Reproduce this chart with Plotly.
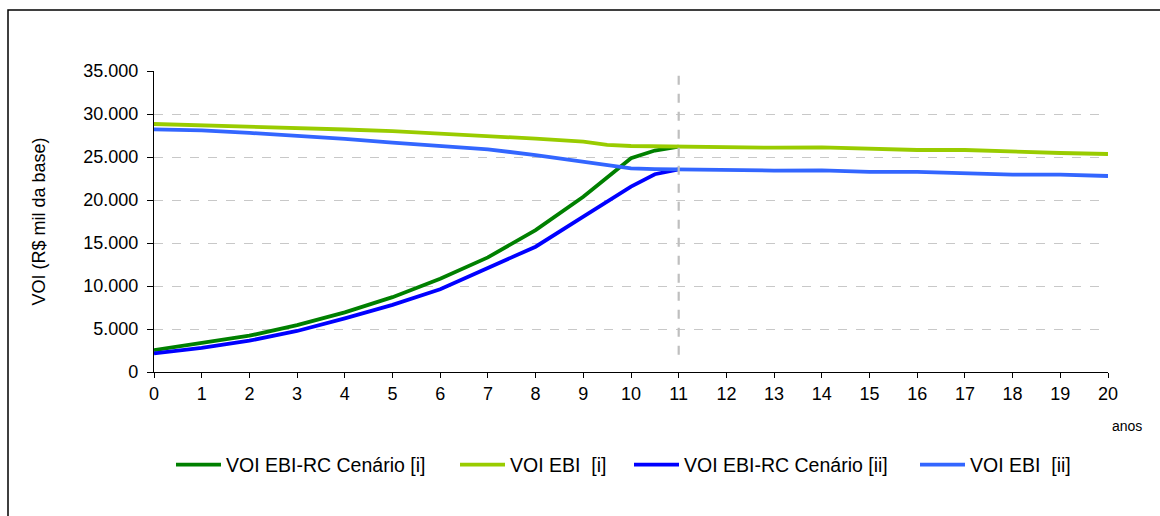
import plotly.graph_objects as go

anos = [0, 1, 2, 3, 4, 5, 6, 7, 8, 9, 9.5, 10, 10.5, 11, 12, 13, 14, 15, 16, 17, 18, 19, 20]

voi_ebi_i = [28840, 28700, 28500, 28340, 28200, 28020, 27750, 27440, 27130, 26780, 26400, 26280,
             26240, 26200, 26085, 26085, 26120, 25970, 25815, 25815, 25620, 25465, 25350]
voi_ebi_ii = [28220, 28100, 27800, 27480, 27100, 26660, 26310, 25890, 25230, 24450, 24000, 23680,
              23600, 23560, 23410, 23420, 23440, 23260, 23260, 23100, 22950, 22950, 22790]
voi_rc_i = [2550, 3330, 4220, 5460, 6940, 8700, 10850, 13330, 16500, 20380, 22600, 24850,
            25750, 26200]
voi_rc_ii = [2170, 2800, 3640, 4770, 6240, 7800, 9620, 12060, 14570, 18060, 19800, 21550,
             23000, 23560]

series = [
    ("VOI EBI-RC Cenário [i]", voi_rc_i, "#008000"),
    ("VOI EBI  [i]", voi_ebi_i, "#99CC00"),
    ("VOI EBI-RC Cenário [ii]", voi_rc_ii, "#0000FF"),
    ("VOI EBI  [ii]", voi_ebi_ii, "#3366FF"),
]

x_ticks = list(range(0, 21))
y_ticks = [0, 5000, 10000, 15000, 20000, 25000, 30000, 35000]
corte_ano = 11

FONT = "Liberation Sans, Arial, sans-serif"

W, H = 1160, 516
L, R, T, B = 154, 52, 71, 144
pw, ph = W - L - R, H - T - B

def px_x(p):
    return (p - L) / pw

def px_y(p):
    return (H - B - p) / ph

legend_left_px = [177, 461, 635, 921]
legend_names = ["legend", "legend2", "legend3", "legend4"]

fig = go.Figure()
for (name, vals, color), lg in zip(series, legend_names):
    fig.add_trace(go.Scatter(x=anos[:len(vals)], y=vals, name=name, mode="lines",
                             line=dict(color=color, width=3.8), legend=lg))

fig.add_shape(type="line", xref="x", yref="y", x0=corte_ano, x1=corte_ano, y0=2000, y1=35000,
              line=dict(color="#BFBFBF", width=2.2, dash="dash"), layer="above")
# outer frame
fig.add_shape(type="rect", xref="paper", yref="paper",
              x0=px_x(8), x1=px_x(1175), y0=px_y(530), y1=px_y(10),
              line=dict(color="black", width=1.5), fillcolor="rgba(0,0,0,0)")

fig.add_annotation(text="anos", xref="paper", yref="paper", x=px_x(1127), y=px_y(426),
                   xanchor="center", yanchor="middle",
                   showarrow=False, font=dict(family=FONT, size=14, color="black"))

legend_common = dict(orientation="h", yanchor="middle", y=px_y(465), xanchor="left",
                     font=dict(family=FONT, size=19.5), itemwidth=45, bgcolor="rgba(0,0,0,0)")
layout_legends = {}
for lg, lp in zip(legend_names, legend_left_px):
    layout_legends[lg] = dict(legend_common, x=px_x(lp - 6))

fig.update_layout(
    width=W, height=H,
    margin=dict(l=L, r=R, t=T, b=B, autoexpand=False),
    paper_bgcolor="white", plot_bgcolor="white",
    separators=",.",
    font=dict(family=FONT, size=18, color="black"),
    showlegend=True,
    xaxis=dict(range=[0, 20], tickmode="array", tickvals=x_ticks, showgrid=False,
               showline=True, linecolor="black", linewidth=1.3, ticks="outside", ticklen=5,
               tickcolor="black", zeroline=False, tickfont=dict(size=18)),
    yaxis=dict(range=[0, 35000], tickmode="array", tickvals=y_ticks, tickformat=",d",
               showgrid=True, gridcolor="#C8C8C8", griddash="dash", gridwidth=1,
               showline=True, linecolor="black", linewidth=1.3, ticks="outside", ticklen=6,
               tickcolor="black", zeroline=False, tickfont=dict(size=18), ticklabelstandoff=5,
               title=dict(text="VOI (R$ mil da base)", font=dict(size=18), standoff=32)),
    **layout_legends,
)

fig.write_html("out.html", config={"displayModeBar": False},
               post_script="document.body.style.margin='0';")
